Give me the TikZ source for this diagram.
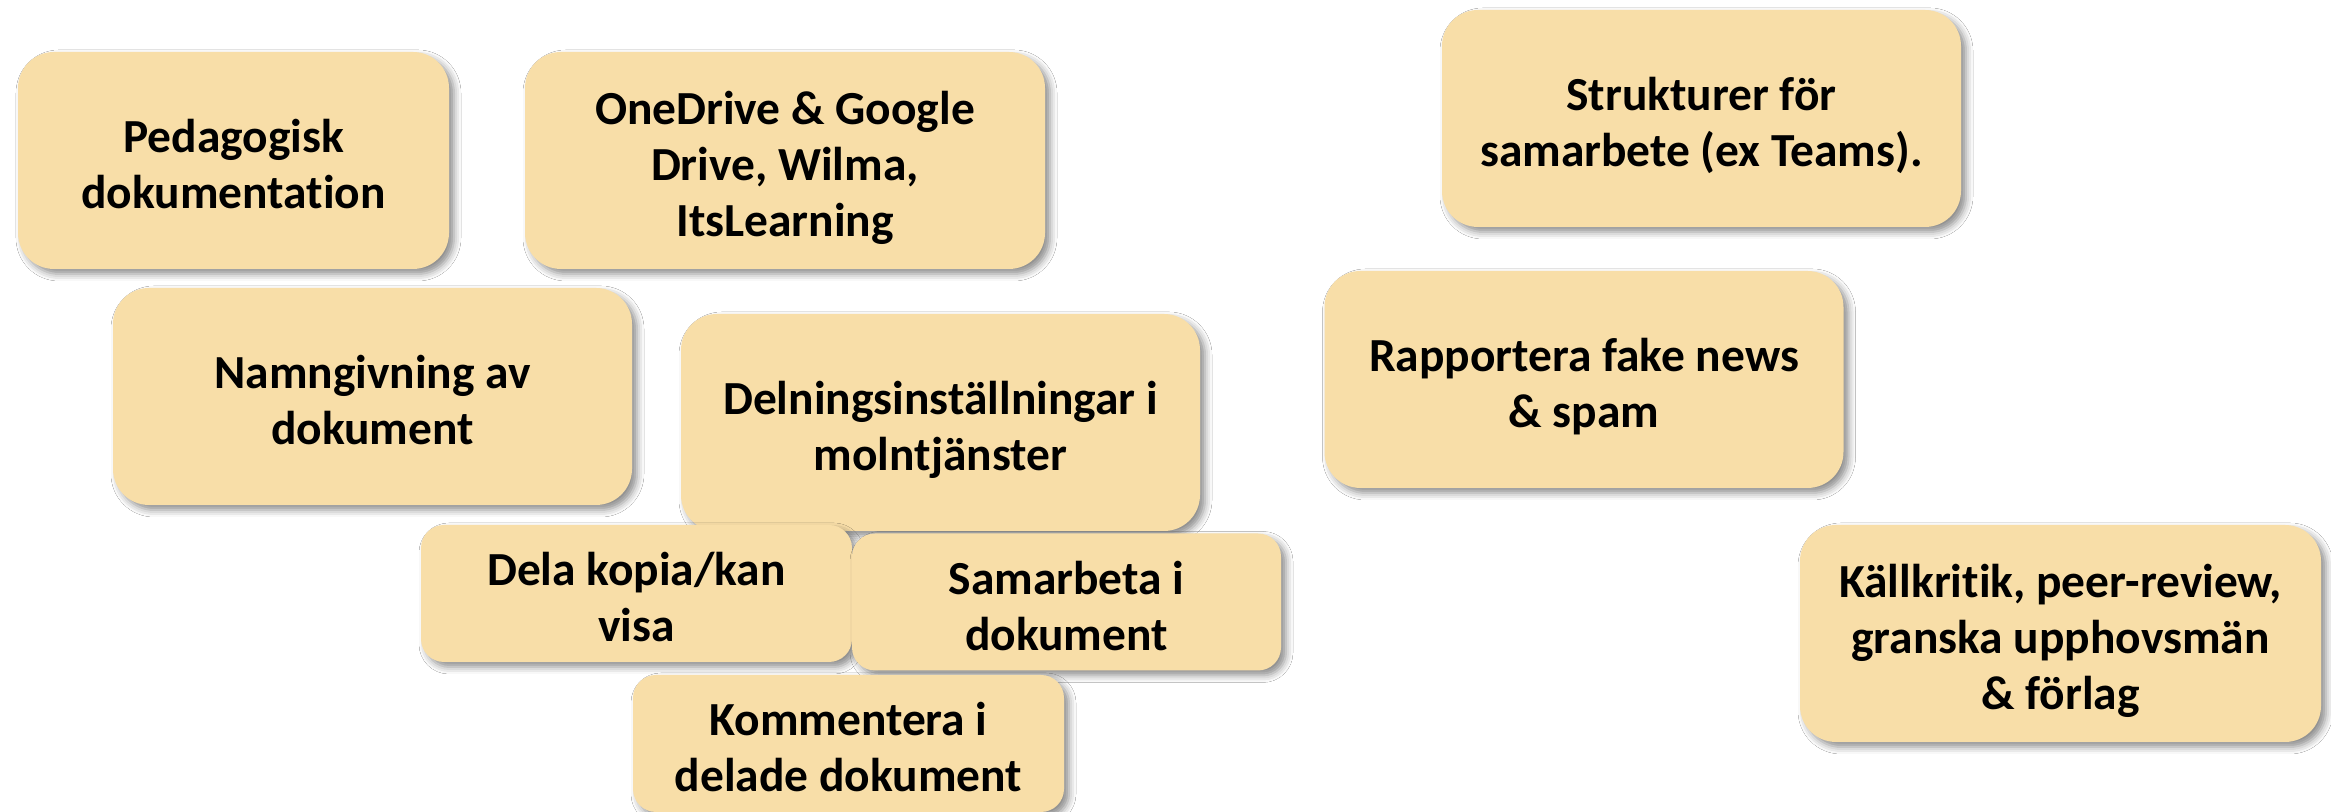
\documentclass[tikz,border=0pt]{standalone}
\usepackage{fontspec}
\setmainfont{Carlito}[Ligatures=NoCommon]
\usetikzlibrary{shadows.blur}
\definecolor{boxfill}{RGB}{248,222,168}
\newcommand{\cardtxt}[1]{\raisebox{-0.09cm}[\height][\depth]{\begin{tabular}{@{}c@{}}#1\end{tabular}}}
\tikzset{
  card/.style={fill=boxfill, draw=none, align=center, inner sep=0pt,
    font=\fontsize{13.5}{16}\selectfont\bfseries,
    blur shadow={shadow xshift=0.05cm, shadow yshift=-0.05cm, shadow blur radius=0.07cm, shadow opacity=45}},
  bigcard/.style={card, minimum width=5.19cm, minimum height=2.17cm, rounded corners=0.36cm},
  smallcard/.style={card, minimum width=4.31cm, minimum height=1.37cm, rounded corners=0.23cm}
}
\begin{document}
\begin{tikzpicture}
\useasboundingbox (0,0) rectangle (23.31,8.12);
\fill[white] (0,0) rectangle (23.31,8.12);
\node[bigcard, minimum width=4.31cm] (ped) at (2.335,6.515) {\cardtxt{Pedagogisk\\dokumentation}};
\node[bigcard, minimum width=5.20cm] (one) at (7.85,6.515) {\cardtxt{OneDrive \& Google\\Drive, Wilma,\\ItsLearning}};
\node[bigcard] (namn) at (3.725,4.155) {\cardtxt{Namngivning av\\dokument}};
\node[bigcard] (deln) at (9.405,3.895) {\cardtxt{Delningsinställningar i\\molntjänster}};
\node[smallcard] (dela) at (6.365,2.185) {\cardtxt{Dela kopia/kan\\visa}};
\node[smallcard, minimum width=4.29cm] (samb) at (10.665,2.10) {\cardtxt{Samarbeta i\\dokument}};
\node[smallcard] (komm) at (8.485,0.685) {\cardtxt{Kommentera i\\delade dokument}};
\node[bigcard] (strukt) at (17.015,6.935) {\cardtxt{Strukturer för\\samarbete (ex Teams).}};
\node[bigcard] (rapp) at (15.84,4.325) {\cardtxt{Rapportera fake news\\\& spam}};
\node[bigcard, minimum width=5.21cm] (kall) at (20.605,1.785) {\cardtxt{Källkritik, peer-review,\\granska upphovsmän\\\& förlag}};
\end{tikzpicture}
\end{document}
